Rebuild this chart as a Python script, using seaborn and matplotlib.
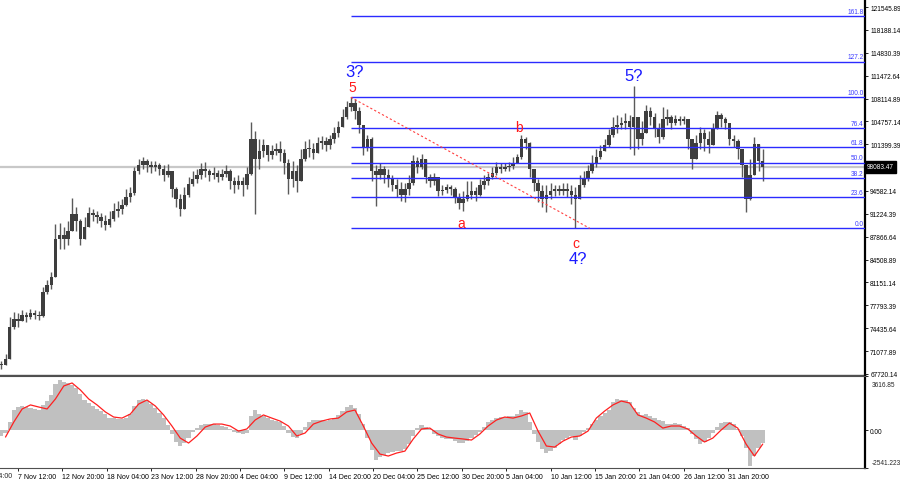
import matplotlib
matplotlib.use("Agg")
import matplotlib.pyplot as plt
import numpy as np
import pandas as pd
import seaborn as sns

sns.set_style("white")
plt.rcParams["font.family"] = ["Liberation Sans", "DejaVu Sans"]

# ---- BTCUSD, 12h candles (5 Nov 12:00 -> 5 Feb 00:00) ----
close = [
    69040, 69920, 74610, 75790, 75490, 76370, 76080, 76670, 76370, 76230,
    79750, 80770, 81950, 87520, 88110, 87520, 88690, 91190, 90160, 87520,
    89280, 91330, 91040, 90750, 90160, 89570, 90450, 91630, 91920, 92510,
    93680, 94270, 97490, 98370, 98960, 98370, 98080, 98370, 97790, 96910,
    97490, 94850, 93390, 91920, 93970, 95590, 96320, 96910, 97790, 97490,
    96910, 97200, 96610, 97050, 97490, 96030, 95440, 96030, 95440, 97050,
    102190, 99250, 100430, 101310, 99840, 100430, 100720, 100130, 98670, 96320,
    97490, 96030, 99250, 100720, 100720, 100130, 101600, 101890, 101310, 102190,
    103070, 103950, 105410, 106880, 107470, 106290, 104240, 101010, 102190, 97490,
    96910, 97790, 96910, 96320, 95440, 94850, 93970, 94850, 95730, 98960,
    98080, 99250, 96610, 96030, 96610, 94560, 94710, 95150, 94850, 93680,
    92800, 93390, 93970, 94560, 93970, 95440, 96030, 96610, 97200, 98080,
    97790, 98080, 98230, 98670, 99550, 102190, 101600, 97790, 95730, 94560,
    93390, 93970, 94560, 94850, 94560, 94850, 94560, 93970, 93390, 95440,
    96320, 97490, 98670, 99550, 100430, 101310, 102770, 103950, 104240, 104530,
    104830, 103950, 105410, 102190, 103070, 106290, 105410, 103650, 102480, 105120,
    105410, 104530, 105120, 104830, 105120, 102190, 99250, 101600, 103070, 102190,
    101310, 103650, 105710, 105120, 104530, 102190, 101890, 100720, 98370, 93390,
    96910, 101450, 98960, 98083,
]
high = [
    69630, 70650, 76080, 76810, 76670, 77110, 76810, 77250, 77110, 76960,
    80480, 81510, 82680, 89720, 89870, 89280, 90160, 93530, 92210, 90450,
    90750, 92210, 91920, 91630, 91330, 91040, 91630, 92800, 93090, 93390,
    94850, 95150, 98080, 99250, 99550, 99250, 98960, 98960, 98670, 98370,
    98520, 97490, 95150, 94120, 95150, 96610, 97490, 97790, 98670, 98810,
    97790, 98080, 97640, 97790, 98370, 97790, 96610, 96910, 96610, 98080,
    104680, 103360, 102190, 102190, 101310, 101310, 101600, 101890, 100720, 99250,
    98960, 98370, 100720, 101890, 102190, 101600, 102480, 102630, 102480, 102770,
    103950, 104830, 106590, 107760, 108300, 108050, 106880, 104240, 102770, 102480,
    98370, 98670, 98230, 97790, 96910, 96320, 95880, 95730, 96910, 99840,
    99550, 99990, 99250, 97050, 97200, 96610, 95440, 95590, 95440, 95150,
    94270, 94560, 96030, 96030, 95150, 96320, 96910, 97200, 98080, 98810,
    98670, 98670, 98810, 99550, 99990, 102770, 102480, 101700, 97800, 96320,
    95440, 95440, 95730, 95440, 95440, 95730, 95730, 95440, 95150, 96910,
    97490, 98370, 99840, 100720, 101310, 102190, 103650, 105410, 105710, 105410,
    106000, 105710, 109960, 105410, 104830, 107170, 106880, 106000, 104530, 106880,
    106590, 105710, 105710, 105560, 105560, 105120, 102190, 102770, 103950, 103650,
    103360, 104530, 106290, 106000, 105410, 104530, 102770, 102190, 100720, 98370,
    99250, 102480, 101500, 100720,
]
low = [
    68450, 69040, 69900, 74320, 74610, 75490, 75350, 75790, 75790, 75640,
    76080, 79450, 80190, 81950, 86050, 86050, 86640, 88690, 88690, 86640,
    87500, 89280, 90160, 89870, 89280, 88840, 89280, 90160, 90750, 91190,
    92360, 92950, 93970, 97050, 97790, 97350, 97200, 97490, 96910, 96030,
    96610, 93680, 92210, 90890, 91920, 93680, 95290, 95730, 96320, 96610,
    96030, 96320, 95880, 96170, 96610, 94850, 94270, 94850, 93830, 94850,
    96900, 91190, 97790, 99550, 98960, 99250, 99840, 98960, 97050, 94120,
    95150, 94410, 96000, 98960, 99550, 99250, 100100, 100720, 100430, 100720,
    101600, 102480, 103950, 105120, 106290, 105120, 103070, 99840, 100430, 96030,
    92360, 96320, 95730, 95150, 94560, 93680, 93090, 92950, 93970, 95440,
    97200, 97790, 95730, 95150, 95440, 93830, 93970, 94270, 93970, 92800,
    91920, 91630, 93090, 93390, 93090, 93900, 94850, 95440, 96320, 96910,
    97200, 97490, 97490, 97790, 98670, 99250, 100720, 96610, 94560, 92950,
    92210, 91480, 93390, 93830, 93970, 93970, 93680, 92650, 89090, 93390,
    95150, 96030, 97200, 98080, 99250, 100430, 101010, 102480, 103070, 103650,
    103650, 100720, 99840, 100720, 101310, 103000, 104240, 102480, 101600, 102190,
    104240, 103650, 104240, 104240, 104390, 100720, 97790, 99250, 100720, 100430,
    100130, 101310, 103650, 103950, 103650, 101310, 101010, 99250, 96610, 91480,
    93300, 96910, 97490, 96030,
]

# MACD main (histogram) per 12h candle, signal line every 24h
macd_hist = [
    -400, -200, 540, 1340, 1540, 1610, 1540, 1470, 1410, 1340,
    1680, 1940, 2350, 3080, 3350, 3220, 3150, 3020, 2810, 2410,
    2010, 1810, 1610, 1410, 1270, 1070, 800, 800, 740, 740,
    800, 1070, 1610, 2010, 2080, 1940, 1740, 1470, 1140, 800,
    340, -270, -800, -1070, -870, -540, -130, 130, 340, 400,
    400, 400, 340, 270, 200, 70, -130, -200, -270, -200,
    940, 1340, 1070, 940, 800, 670, 600, 540, 270, -200,
    -470, -540, -270, 200, 540, 670, 670, 670, 600, 670,
    800, 1010, 1270, 1540, 1680, 1470, 1070, 400, -540, -1340,
    -2010, -1810, -1680, -1540, -1470, -1410, -1410, -1270, -940, -400,
    130, 340, 200, 70, -270, -400, -540, -600, -600, -740,
    -870, -870, -740, -540, -340, -130, 200, 540, 670, 800,
    870, 870, 940, 940, 1070, 1340, 1210, 540, -270, -800,
    -1270, -1540, -1410, -1210, -940, -670, -540, -400, -670, -400,
    -130, 130, 400, 670, 940, 1140, 1340, 1880, 2080, 2010,
    2010, 1880, 1470, 1210, 1010, 1070, 940, 800, 670, 600,
    400, 400, 470, 400, 270, 130, -270, -600, -940, -800,
    -540, -200, 200, 470, 540, 540, 400, 70, -400, -1210,
    -2400, -1740, -1210, -870,
]
macd_signal = [
    -470, 540, 1410, 1680, 1540, 1410, 2080, 2950, 3150, 2680,
    2080, 1680, 1210, 870, 800, 1070, 1740, 2010, 1610, 1010,
    270, -540, -870, -400, 200, 400, 400, 270, -70, 70,
    670, 1010, 800, 600, 270, -400, -200, 400, 600, 740,
    800, 1210, 1340, 270, -870, -1610, -1740, -1540, -1410, -600,
    70, 130, -270, -470, -540, -600, -670, -270, 270, 670,
    870, 800, 940, 1140, -70, -1070, -1140, -740, -470, -400,
    -70, 800, 1270, 1680, 1940, 1810, 1010, 800, 540, 130,
    270, 270, 70, -400, -800, -540, 0, 470, 130, -940,
    -1740, -940,
]

price_ticks = [121545.89, 118188.14, 114830.39, 111472.64, 108114.89, 104757.14,
               101399.39, 94582.14, 91224.39, 87866.64, 84508.89, 81151.14,
               77793.39, 74435.64, 71077.89, 67720.14]
macd_ticks = [3616.85, 0.0, -2541.223]
macd_tick_labels = ["3616.85", "0.00", "-2541.223"]
time_labels = ["7 Nov 12:00", "12 Nov 20:00", "18 Nov 04:00", "23 Nov 12:00",
               "28 Nov 20:00", "4 Dec 04:00", "9 Dec 12:00", "14 Dec 20:00",
               "20 Dec 04:00", "25 Dec 12:00", "30 Dec 20:00", "5 Jan 04:00",
               "10 Jan 12:00", "15 Jan 20:00", "21 Jan 04:00", "26 Jan 12:00",
               "31 Jan 20:00"]
fib_levels = [0.0, 23.6, 38.2, 50.0, 61.8, 76.4, 100.0, 127.2, 161.8]
fib_low, fib_high = 89090, 108303
last_price = 98083.47

wave_text = ["3?", "5", "b", "a", "c", "4?", "5?"]
wave_time = ["2024-12-18 00:00", "2024-12-17 15:00", "2025-01-06 17:00",
             "2024-12-30 18:00", "2025-01-13 14:00", "2025-01-13 19:00",
             "2025-01-20 13:00"]
wave_price = [112160, 109810, 103950, 89870, 86930, 84590, 111430]
wave_color = ["#1a1aff", "#ff1a1a", "#ff1a1a", "#ff1a1a", "#ff1a1a", "#1a1aff", "#1a1aff"]
wave_size = [12, 10, 10, 10, 10, 12, 12]

candle_times = pd.date_range("2024-11-05 12:00", periods=len(close), freq="12h")
signal_times = pd.date_range("2024-11-06 00:00", periods=len(macd_signal), freq="24h")
tick_times = pd.date_range("2024-11-07 12:00", periods=len(time_labels), freq="128h")
x_left = pd.Timestamp("2024-11-05 08:06")
x_right = pd.Timestamp("2025-02-17 07:00")

AXIS_FS = 4.7

fig = plt.figure(figsize=(9, 4.85), dpi=100)
ax = fig.add_axes([0, 1 - 376 / 485, 865 / 900, 376 / 485])
ax2 = fig.add_axes([0, 1 - 469 / 485, 865 / 900, 92 / 485])

# ---- price panel ----
ax.axhline(last_price, color="#c8c8c8", lw=1.6, zorder=0)

opens = np.array([close[0]] + close[:-1])
closes = np.array(close)
body_bottom = np.minimum(opens, closes)
body_h = np.maximum(np.abs(closes - opens), 80)
ax.vlines(candle_times, low, high, color="#5a5a5a", lw=1.0, zorder=2)
ax.bar(candle_times, body_h, bottom=body_bottom, width=0.42, color="#3e3e3e", lw=0, zorder=2)

fib_start = candle_times[84]
for lvl in fib_levels:
    p = fib_low + lvl / 100 * (fib_high - fib_low)
    ax.hlines(p, fib_start, x_right, color="#2b2bff", lw=1.0, zorder=3)
    ax.text(0.9985, p + 250, f"{lvl:.1f}", transform=ax.get_yaxis_transform(),
            ha="right", va="bottom", fontsize=AXIS_FS, color="#3d3dff")
ax.plot([fib_start, pd.Timestamp("2025-01-15 05:00")], [fib_high, fib_low],
        color="#ff4040", lw=0.8, ls=(0, (2, 2)), zorder=3)

for t, tm, pr, c, s in zip(wave_text, wave_time, wave_price, wave_color, wave_size):
    ax.text(pd.Timestamp(tm), pr, t, color=c, fontsize=s, ha="center", va="center", zorder=4)

ax.set_xlim(x_left, x_right)
ax.set_ylim(67573, 122721)
ax.yaxis.tick_right()
ax.set_yticks(price_ticks)
ax.set_yticklabels([f"{v:.2f}" for v in price_ticks])
ax.tick_params(axis="y", right=True, length=2.5, width=0.6, pad=1.2, labelsize=AXIS_FS, colors="black")
ax.tick_params(axis="x", bottom=False, labelbottom=False)
ax.text(1.0025, last_price, f"{last_price:.2f}", transform=ax.get_yaxis_transform(),
        ha="left", va="center", fontsize=AXIS_FS, color="white",
        bbox=dict(facecolor="black", edgecolor="black", pad=1.6))

for side in ["top", "left"]:
    ax.spines[side].set_visible(False)
ax.spines["right"].set_color("black")
ax.spines["right"].set_linewidth(1.6)
ax.spines["bottom"].set_color("#505050")
ax.spines["bottom"].set_linewidth(1.0)

# ---- MACD panel ----
ax2.bar(candle_times, macd_hist, width=0.5, color="#c0c0c0", lw=0, zorder=1)
sns.lineplot(x=signal_times, y=macd_signal, ax=ax2, color="#ff2020", lw=0.9, zorder=2)
ax2.set_xlim(x_left, x_right)
ax2.set_ylim(-2541.223, 3616.85)
ax2.set_ylabel("")
ax2.yaxis.tick_right()
ax2.set_yticks(macd_ticks)
ax2.set_yticklabels(["", macd_tick_labels[1], ""])
ax2.tick_params(axis="y", right=True, length=2.5, width=0.6, pad=1.2, labelsize=AXIS_FS, colors="black")
# MT4 draws the max/min labels just inside the window
ax2.text(1.0075, 0.99 - 0.04, macd_tick_labels[0], transform=ax2.transAxes,
         ha="left", va="top", fontsize=AXIS_FS)
ax2.text(1.0075, 0.02, macd_tick_labels[2], transform=ax2.transAxes,
         ha="left", va="bottom", fontsize=AXIS_FS)
ax2.set_xticks(tick_times)
ax2.set_xticklabels(time_labels, ha="left")
ax2.tick_params(axis="x", bottom=True, length=2.5, width=0.6, pad=1.2, labelsize=5.0, colors="black")
ax2.text(pd.Timestamp("2024-11-02 04:00"), -0.045, "2 Nov 04:00", transform=ax2.get_xaxis_transform(),
         ha="left", va="top", fontsize=5.0, clip_on=False)

ax2.spines["left"].set_visible(False)
ax2.spines["right"].set_color("black")
ax2.spines["right"].set_linewidth(1.6)
ax2.spines["top"].set_color("#505050")
ax2.spines["bottom"].set_color("#505050")

fig.savefig("out.png", dpi=100)
